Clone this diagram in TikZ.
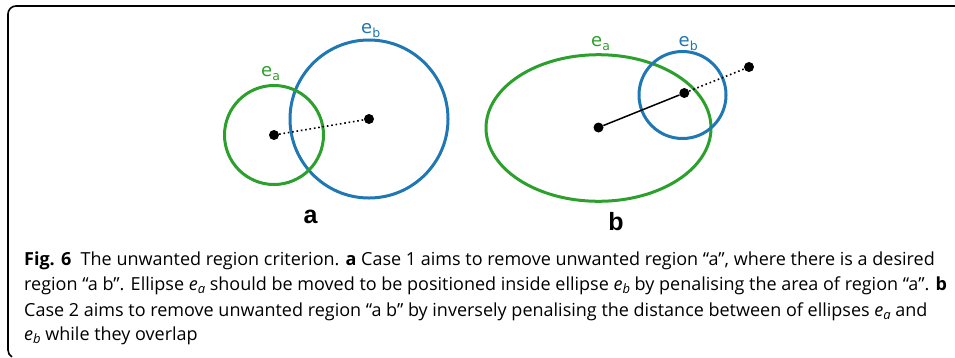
\documentclass[tikz,border=0pt]{standalone}
\usepackage{fontspec}
\setmainfont{Open Sans}
\newfontfamily\dejavu{DejaVu Sans}
\newfontfamily\libsans{Liberation Sans}
\usetikzlibrary{shapes.geometric}
\definecolor{tabgreen}{HTML}{2CA02C}
\definecolor{tabblue}{HTML}{1F77B4}
\tikzset{
  dot/.style={circle, fill=black, inner sep=0pt, minimum size=10pt},
  ringg/.style={circle, draw=tabgreen, line width=3pt, inner sep=0pt},
  ringb/.style={circle, draw=tabblue, line width=3pt, inner sep=0pt},
  elg/.style={ellipse, draw=tabgreen, line width=3pt, inner sep=0pt},
  dotline/.style={line width=1.6pt, dash pattern=on 1.6pt off 2.8pt},
  solidline/.style={line width=1.5pt},
  elab/.style={anchor=base west, inner sep=0pt, font=\dejavu\fontsize{18}{20}\selectfont},
  plab/.style={anchor=base, inner sep=0pt, font=\libsans\bfseries\fontsize{25}{28}\selectfont},
  capline/.style={anchor=base west, inner sep=0pt, font=\fontsize{18}{22}\selectfont},
}
\newcommand{\esub}[1]{e\raisebox{-4pt}{\fontsize{12.5}{13}\selectfont #1}}
\newcommand{\cesub}[1]{\textit{e}\raisebox{-3pt}{\fontsize{13}{13}\selectfont\itshape #1}}
\begin{document}
\begin{tikzpicture}[x=1pt, y=-1pt]
\path[use as bounding box] (0,0) rectangle (955,357);
% frame
\coordinate (fr1) at (955,6);
\draw[line width=1.6pt] (fr1) -- (16,6) arc[start angle=90, end angle=180, radius=8pt] -- (8,350) arc[start angle=180, end angle=240, radius=8pt];
% panel a
\node[ringb, minimum size=158pt] (cb) at (369,119) {};
\node[ringg, minimum size=99pt] (ca) at (274,135) {};
\node[dot] (da) at (274,135) {};
\node[dot] (db) at (369,119) {};
\draw[dotline] (da) -- (db);
\node[elab, text=tabgreen] (la) at (261,76.5) {\esub{a}};
\node[elab, text=tabblue] (lb) at (361,33) {\esub{b}};
\node[plab] (pa) at (310.5,223) {a};
% panel b
\node[elg, minimum width=225pt, minimum height=146.6pt] (eg) at (598.5,128) {};
\node[ringb, minimum size=87pt] (cb2) at (682.5,95) {};
\node[dot] (d1) at (598.5,127.5) {};
\node[dot] (d2) at (684.3,93) {};
\node[dot] (d3) at (749,67) {};
\draw[solidline] (d1) -- (d2);
\draw[dotline] (d2) -- (d3);
\node[elab, text=tabgreen] (la2) at (591,46.5) {\esub{a}};
\node[elab, text=tabblue] (lb2) at (678.5,46.5) {\esub{b}};
\node[plab] (pb) at (616,230.5) {b};
% caption
\node[capline] (c1) at (24,265) {\textbf{Fig. 6}\ \ The unwanted region criterion. \textbf{a} Case 1 aims to remove unwanted region “a”, where there is a desired};
\node[capline] (c2) at (24,290.5) {region “a b”. Ellipse \cesub{a} should be moved to be positioned inside ellipse \cesub{b} by penalising the area of region “a”. \textbf{b}};
\node[capline] (c3) at (24,316) {Case 2 aims to remove unwanted region “a b” by inversely penalising the distance between of ellipses \cesub{a} and};
\node[capline] (c4) at (24,340.5) {\cesub{b} while they overlap};
\end{tikzpicture}
\end{document}
